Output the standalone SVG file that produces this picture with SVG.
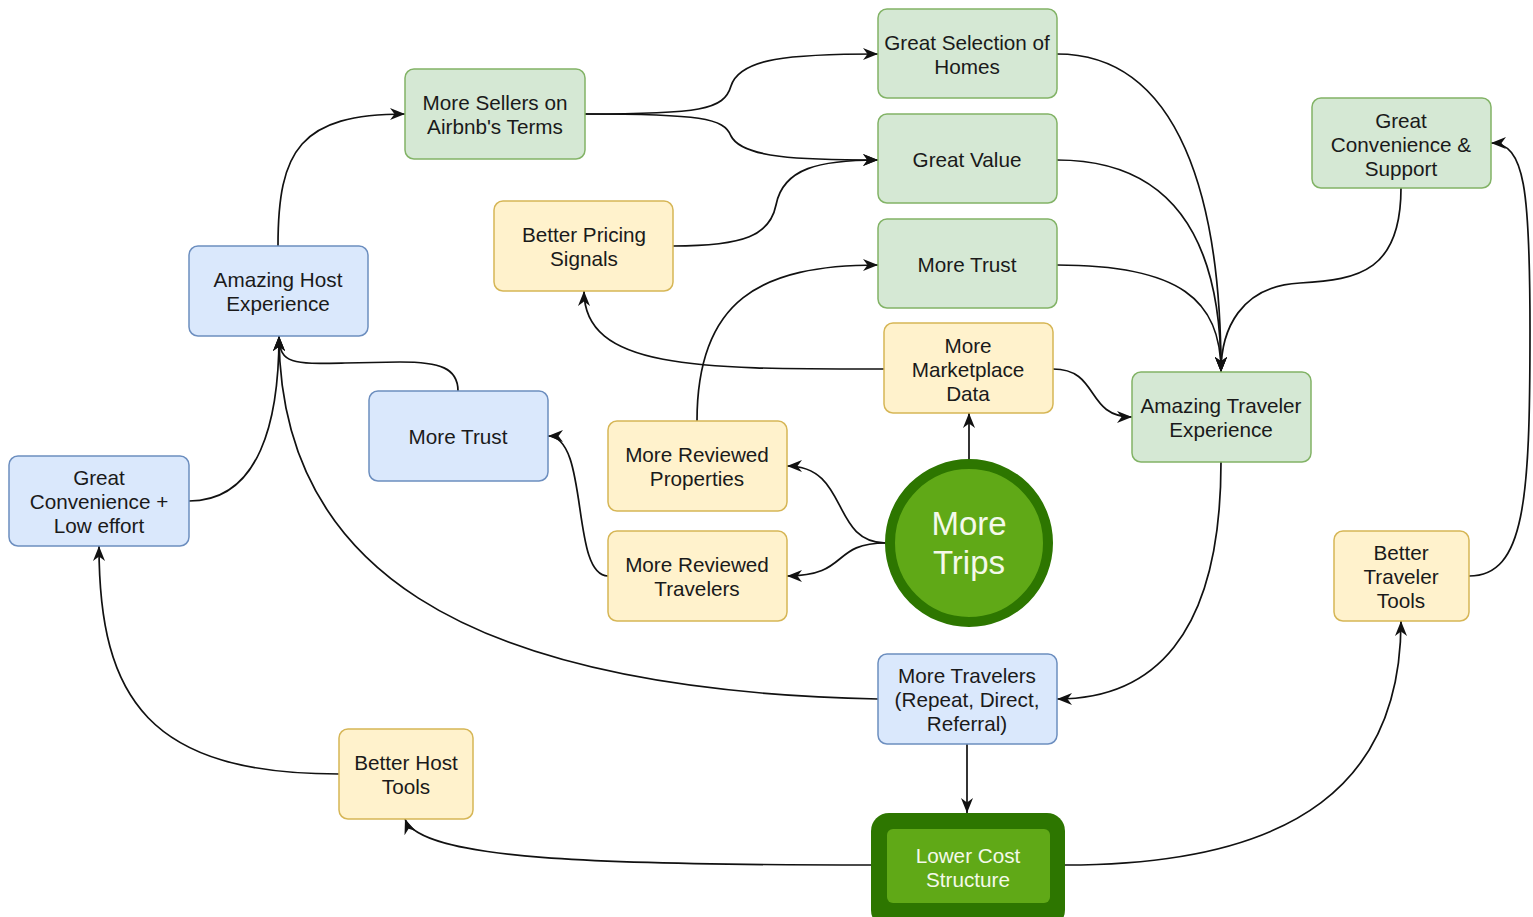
<svg xmlns="http://www.w3.org/2000/svg" width="1533" height="917" viewBox="0 0 1533 917">
<style>
text{font-family:"Liberation Sans",Arial,Helvetica,sans-serif;font-size:20.7px;fill:#1a1a1a;text-anchor:middle}
.g{fill:#d5e8d4;stroke:#82b366;stroke-width:1.5}
.y{fill:#fff2cc;stroke:#d6b656;stroke-width:1.5}
.b{fill:#dae8fc;stroke:#6c8ebf;stroke-width:1.5}
.w{fill:#f4f9ea}
#edges path{fill:none;stroke:#111;stroke-width:1.7;marker-end:url(#arr)}
</style>
<defs>
<marker id="arr" viewBox="0 0 10 10" refX="10" refY="5" markerWidth="15" markerHeight="15" markerUnits="userSpaceOnUse" orient="auto">
<path d="M0,1 L10,5 L0,9 L3,5 z" fill="#111"/>
</marker>
</defs>
<rect width="1533" height="917" fill="#fff"/>
<g id="edges">
<path d="M585,114 C700,114 724,110 731,86 C740,58 790,54 878,54"/>
<path d="M585,114 C700,114 724,118 731,136 C742,158 800,160 878,160"/>
<path d="M673,246 C745,246 770,235 776,205 C783,168 820,160 878,160"/>
<path d="M697,421 C697,300 760,265 878,265"/>
<path d="M884,369 C700,369 584,370 584,291"/>
<path d="M1053,369 C1100,369 1085,417 1132,417"/>
<path d="M969,459 L969,413"/>
<path d="M886,543 C830,543 850,466 787,466"/>
<path d="M886,543 C830,543 850,576 787,576"/>
<path d="M608,576 C570,576 590,436 548,436"/>
<path d="M458,391 C458,368 440,362 400,362 L345,363 C295,364 279,365 279,336"/>
<path d="M189,501 C260,501 279,420 279,336"/>
<path d="M878,699 C450,690 280,560 279,336"/>
<path d="M278,246 C278,150 300,114 405,114"/>
<path d="M1057,54 C1180,54 1221,200 1221,372"/>
<path d="M1057,160 C1180,160 1221,250 1221,372"/>
<path d="M1057,265 C1180,265 1221,300 1221,372"/>
<path d="M1401,188 C1401,270 1360,280 1300,283 C1240,286 1221,330 1221,372"/>
<path d="M1221,462 C1221,640 1150,699 1057,699"/>
<path d="M967,744 L967,813"/>
<path d="M871,865 C600,865 420,860 405,819"/>
<path d="M1065,865 C1300,865 1401,780 1401,621"/>
<path d="M1469,576 C1525,576 1530,500 1530,330 C1530,190 1525,143 1491,143"/>
<path d="M339,774 C150,774 99,700 99,546"/>
</g>
<g id="great-selection"><rect class="g" x="878" y="9" width="179" height="89" rx="9"/><text x="967" y="50">Great Selection of</text><text x="967" y="74">Homes</text></g>
<g id="great-value"><rect class="g" x="878" y="114" width="179" height="89" rx="9"/><text x="967" y="167">Great Value</text></g>
<g id="more-trust-green"><rect class="g" x="878" y="219" width="179" height="89" rx="9"/><text x="967" y="272">More Trust</text></g>
<g id="more-sellers"><rect class="g" x="405" y="69" width="180" height="90" rx="9"/><text x="495" y="110">More Sellers on</text><text x="495" y="134">Airbnb's Terms</text></g>
<g id="great-convenience-support"><rect class="g" x="1312" y="98" width="179" height="90" rx="9"/><text x="1401" y="128">Great</text><text x="1401" y="152">Convenience &amp;</text><text x="1401" y="176">Support</text></g>
<g id="better-pricing"><rect class="y" x="494" y="201" width="179" height="90" rx="9"/><text x="584" y="242">Better Pricing</text><text x="584" y="266">Signals</text></g>
<g id="amazing-host"><rect class="b" x="189" y="246" width="179" height="90" rx="9"/><text x="278" y="287">Amazing Host</text><text x="278" y="311">Experience</text></g>
<g id="marketplace-data"><rect class="y" x="884" y="323" width="169" height="90" rx="9"/><text x="968" y="353">More</text><text x="968" y="377">Marketplace</text><text x="968" y="401">Data</text></g>
<g id="amazing-traveler"><rect class="g" x="1132" y="372" width="179" height="90" rx="9"/><text x="1221" y="413">Amazing Traveler</text><text x="1221" y="437">Experience</text></g>
<g id="more-trust-blue"><rect class="b" x="369" y="391" width="179" height="90" rx="9"/><text x="458" y="444">More Trust</text></g>
<g id="reviewed-properties"><rect class="y" x="608" y="421" width="179" height="90" rx="9"/><text x="697" y="462">More Reviewed</text><text x="697" y="486">Properties</text></g>
<g id="great-convenience-low"><rect class="b" x="9" y="456" width="180" height="90" rx="9"/><text x="99" y="485">Great</text><text x="99" y="509">Convenience +</text><text x="99" y="533">Low effort</text></g>
<g id="reviewed-travelers"><rect class="y" x="608" y="531" width="179" height="90" rx="9"/><text x="697" y="572">More Reviewed</text><text x="697" y="596">Travelers</text></g>
<g id="more-trips"><circle cx="969" cy="543" r="79" fill="#60a917" stroke="#2d7600" stroke-width="10"/><text class="w" x="969" y="535" style="font-size:33px">More</text><text class="w" x="969" y="574" style="font-size:33px">Trips</text></g>
<g id="better-traveler-tools"><rect class="y" x="1334" y="531" width="135" height="90" rx="9"/><text x="1401" y="560">Better</text><text x="1401" y="584">Traveler</text><text x="1401" y="608">Tools</text></g>
<g id="more-travelers"><rect class="b" x="878" y="654" width="179" height="90" rx="9"/><text x="967" y="683">More Travelers</text><text x="967" y="707">(Repeat, Direct,</text><text x="967" y="731">Referral)</text></g>
<g id="better-host-tools"><rect class="y" x="339" y="729" width="134" height="90" rx="9"/><text x="406" y="770">Better Host</text><text x="406" y="794">Tools</text></g>
<g id="lower-cost"><rect x="871" y="813" width="194" height="115" rx="18" fill="#2d7600"/><rect x="887" y="829" width="163" height="74" rx="6" fill="#60a917"/><text class="w" x="968" y="863">Lower Cost</text><text class="w" x="968" y="887">Structure</text></g>
</svg>
